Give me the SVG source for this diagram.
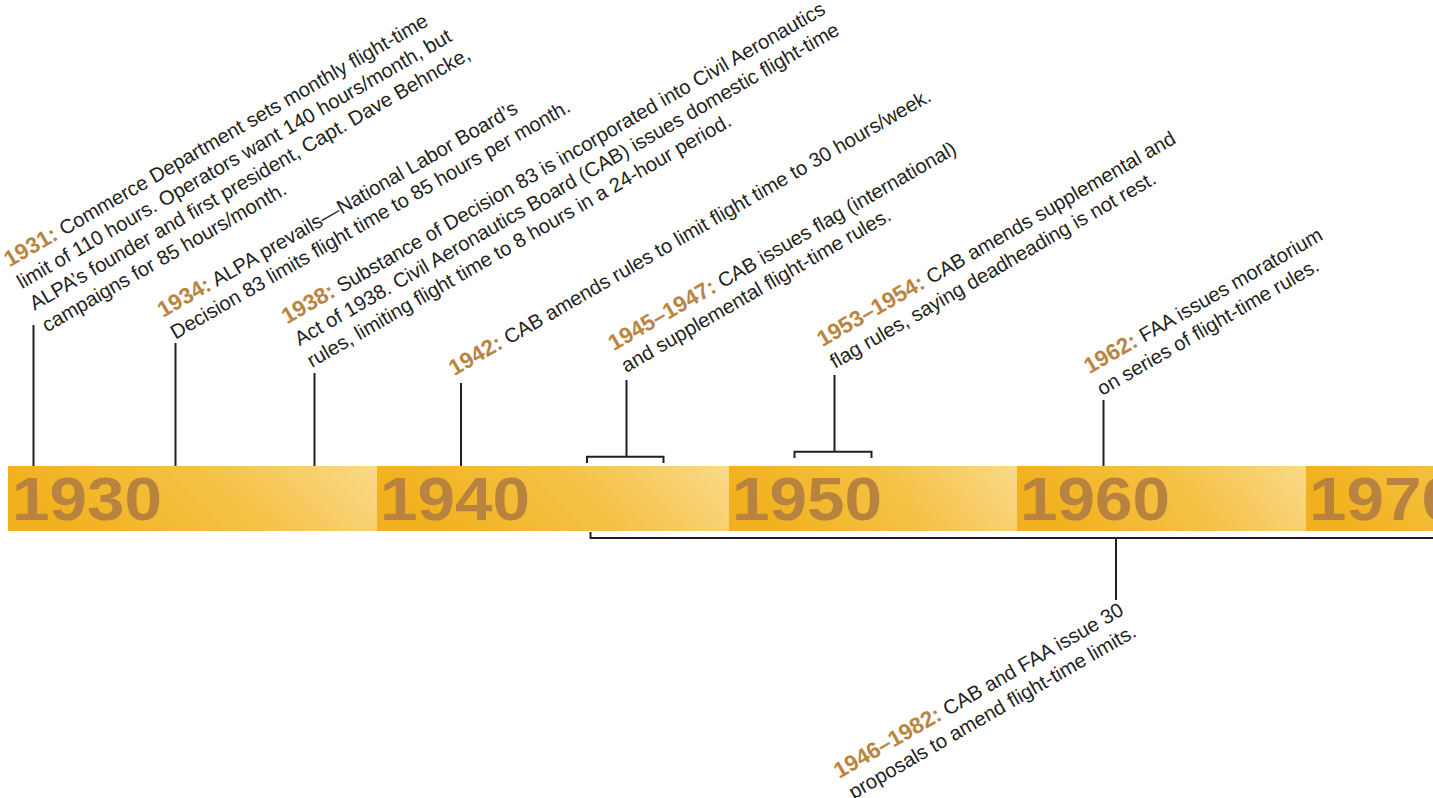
<svg xmlns="http://www.w3.org/2000/svg" width="1433" height="798" viewBox="0 0 1433 798">
<style>
.t { font-family: "Liberation Sans", Arial, sans-serif; font-size: 20.2px; fill: #231F20; }
.yr { font-weight: bold; font-size: 22.5px; fill: #B98540; }
.dec { font-family: "Liberation Sans", Arial, sans-serif; font-weight: bold; font-size: 61px; fill: #B8833F; }
.ln { stroke: #231F20; stroke-width: 2; fill: none; }
.seg { fill: url(#barGrad); }
</style>
<defs>
<linearGradient id="barGrad" x1="0" y1="0.5" x2="1" y2="0.5" gradientTransform="skewX(10)">
<stop offset="0" stop-color="#F2B21F"/>
<stop offset="0.5" stop-color="#F5C144"/>
<stop offset="1" stop-color="#FAD98A"/>
</linearGradient>
</defs>
<rect width="1433" height="798" fill="#FFFFFF"/>

<g id="bar">
<rect class="seg" x="8" y="466" width="369" height="65"/>
<rect class="seg" x="377" y="466" width="352" height="65"/>
<rect class="seg" x="729" y="466" width="288" height="65"/>
<rect class="seg" x="1017" y="466" width="289" height="65"/>
<rect class="seg" x="1306" y="466" width="289" height="65"/>
<text class="dec" x="12" y="520" textLength="150" lengthAdjust="spacingAndGlyphs">1930</text>
<text class="dec" x="380" y="520" textLength="150" lengthAdjust="spacingAndGlyphs">1940</text>
<text class="dec" x="732" y="520" textLength="150" lengthAdjust="spacingAndGlyphs">1950</text>
<text class="dec" x="1020" y="520" textLength="150" lengthAdjust="spacingAndGlyphs">1960</text>
<text class="dec" x="1309" y="520" textLength="150" lengthAdjust="spacingAndGlyphs">1970</text>
</g>

<g id="connectors">
<line class="ln" x1="33.5" y1="325" x2="33.5" y2="466"/>
<line class="ln" x1="175.5" y1="343" x2="175.5" y2="466"/>
<line class="ln" x1="314.5" y1="373" x2="314.5" y2="466"/>
<line class="ln" x1="461" y1="383" x2="461" y2="466"/>
<path class="ln" d="M626.5 380 V456.7 M587 463 V456.7 H663.5 V463"/>
<path class="ln" d="M834.5 375 V451.7 M794.5 458 V451.7 H871.5 V458"/>
<line class="ln" x1="1103.5" y1="400" x2="1103.5" y2="466"/>
<path class="ln" d="M590.5 532 V538 H1433 M1116 538 V600"/>
</g>

<g id="e1931" transform="translate(9.5,267.5) rotate(-30)">
<text class="t"><tspan x="0" y="0"><tspan class="yr">1931:</tspan> Commerce Department sets monthly flight-time</tspan><tspan x="0" y="25">limit of 110 hours. Operators want 140 hours/month, but</tspan><tspan x="0" y="50">ALPA’s founder and first president, Capt. Dave Behncke,</tspan><tspan x="0" y="75">campaigns for 85 hours/month.</tspan></text>
</g>

<g id="e1934" transform="translate(163,318) rotate(-30)">
<text class="t"><tspan x="0" y="0"><tspan class="yr">1934:</tspan> ALPA prevails—National Labor Board’s</tspan><tspan x="0" y="25">Decision 83 limits flight time to 85 hours per month.</tspan></text>
</g>

<g id="e1938" transform="translate(287,324.6) rotate(-30)">
<text class="t"><tspan x="0" y="0"><tspan class="yr">1938:</tspan> Substance of Decision 83 is incorporated into Civil Aeronautics</tspan><tspan x="0" y="25">Act of 1938. Civil Aeronautics Board (CAB) issues domestic flight-time</tspan><tspan x="0" y="50">rules, limiting flight time to 8 hours in a 24-hour period.</tspan></text>
</g>

<g id="e1942" transform="translate(454.3,376.3) rotate(-30)">
<text class="t"><tspan x="0" y="0"><tspan class="yr">1942:</tspan> CAB amends rules to limit flight time to 30 hours/week.</tspan></text>
</g>

<g id="e1945" transform="translate(613.8,351.3) rotate(-30)">
<text class="t"><tspan x="0" y="0"><tspan class="yr">1945–1947:</tspan> CAB issues flag (international)</tspan><tspan x="0" y="25">and supplemental flight-time rules.</tspan></text>
</g>

<g id="e1953" transform="translate(822.4,347.3) rotate(-30)">
<text class="t"><tspan x="0" y="0"><tspan class="yr">1953–1954:</tspan> CAB amends supplemental and</tspan><tspan x="0" y="25">flag rules, saying deadheading is not rest.</tspan></text>
</g>

<g id="e1962" transform="translate(1089.5,374.3) rotate(-30)">
<text class="t"><tspan x="0" y="0"><tspan class="yr">1962:</tspan> FAA issues moratorium</tspan><tspan x="0" y="25">on series of flight-time rules.</tspan></text>
</g>

<g id="e1946" transform="translate(1125,614) rotate(-30)">
<text class="t" text-anchor="end"><tspan x="0" y="0"><tspan class="yr">1946–1982:</tspan> CAB and FAA issue 30</tspan><tspan x="0" y="25">proposals to amend flight-time limits.</tspan></text>
</g>
</svg>
